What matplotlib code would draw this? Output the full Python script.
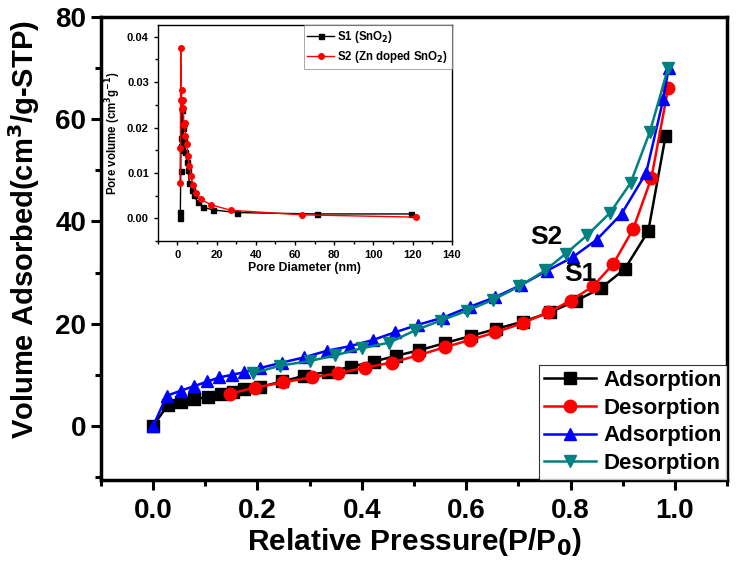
import numpy as np
import matplotlib
matplotlib.use("Agg")
import matplotlib.pyplot as plt
from matplotlib.ticker import MultipleLocator

plt.rcParams["font.family"] = ["Liberation Sans Narrow", "Liberation Sans", "DejaVu Sans"]
plt.rcParams["font.weight"] = "bold"
plt.rcParams["mathtext.default"] = "bf"

# S1 (SnO2) isotherm
s1_ads_p = [0.0, 0.028, 0.053, 0.079, 0.105, 0.13, 0.154, 0.175, 0.204, 0.247, 0.289, 0.336,
            0.38, 0.423, 0.465, 0.51, 0.559, 0.609, 0.658, 0.709, 0.76, 0.811, 0.859, 0.904,
            0.949, 0.982]
s1_ads_v = [0, 4.1, 4.7, 5.2, 5.7, 6.2, 6.7, 7.2, 7.6, 8.7, 9.8, 10.6, 11.6, 12.6, 13.7, 14.8,
            16.2, 17.6, 19.0, 20.4, 22.2, 24.5, 27.0, 30.7, 38.1, 56.6]
s1_des_p = [0.147, 0.195, 0.248, 0.304, 0.355, 0.406, 0.457, 0.508, 0.559, 0.607, 0.656, 0.708,
            0.757, 0.80, 0.843, 0.882, 0.92, 0.955, 0.987]
s1_des_v = [6.3, 7.5, 8.5, 9.5, 10.3, 11.4, 12.4, 13.8, 15.4, 16.8, 18.3, 20.1, 22.2, 24.5,
            27.3, 31.7, 38.5, 48.5, 66.0]

# S2 (Zn doped SnO2) isotherm
s2_ads_p = [0.0, 0.026, 0.053, 0.079, 0.104, 0.127, 0.151, 0.174, 0.204, 0.247, 0.289, 0.333,
            0.377, 0.421, 0.463, 0.508, 0.556, 0.607, 0.656, 0.706, 0.754, 0.804, 0.85, 0.898,
            0.945, 0.978, 0.988]
s2_ads_v = [0, 5.9, 6.9, 7.8, 8.7, 9.5, 10.0, 10.5, 11.3, 12.4, 13.4, 14.7, 15.6, 16.8, 18.3,
            19.8, 21.2, 23.3, 25.2, 27.6, 30.3, 33.0, 36.4, 41.5, 49.5, 64.0, 70.0]
s2_des_p = [0.191, 0.244, 0.30, 0.349, 0.40, 0.453, 0.502, 0.551, 0.601, 0.652, 0.702, 0.751,
            0.791, 0.832, 0.876, 0.915, 0.952, 0.987]
s2_des_v = [10.3, 11.8, 12.7, 13.8, 15.2, 16.3, 18.7, 20.6, 22.5, 24.7, 27.3, 30.4, 33.7, 37.3,
            41.7, 47.5, 57.5, 70.0]

# pore size distribution (inset)
s1_d = [1.4, 1.5, 1.7, 1.8, 1.9, 2.1, 2.4, 2.7, 3.2, 4.1, 4.8, 5.4, 6.1, 7.4, 8.3, 10.4, 12.9,
        18.0, 30.3, 71.1, 119.2]
s1_pv = [0.0001, 0.0015, 0.0105, 0.0160, 0.0178, 0.0150, 0.0239, 0.0200, 0.0172, 0.0147, 0.0124,
         0.0106, 0.0077, 0.0063, 0.0051, 0.0036, 0.0025, 0.0019, 0.0013, 0.0010, 0.0010]
s2_d = [1.3, 1.5, 1.7, 1.9, 2.1, 2.3, 2.5, 2.7, 3.0, 3.3, 3.7, 4.1, 4.8, 5.3, 6.1, 7.0, 7.8,
        9.5, 12.1, 17.2, 27.4, 63.6, 121.8]
s2_pv = [0.0079, 0.0154, 0.0375, 0.0260, 0.0283, 0.0258, 0.0240, 0.0260, 0.0242, 0.0206, 0.0210,
         0.0181, 0.0163, 0.0137, 0.0116, 0.0093, 0.0074, 0.0056, 0.0042, 0.0030, 0.0018, 0.0008,
         0.0003]


def main():
    fig = plt.figure(figsize=(7.48, 5.61), dpi=100)
    ax = fig.add_axes([0.135, 0.145, 0.837, 0.825])

    kw = dict(lw=1.8, ms=9)
    ax.plot(s1_ads_p, s1_ads_v, "-s", color="black", label="Adsorption", **kw)
    ax.plot(s1_des_p, s1_des_v, "-o", color="red", label="Desorption", **kw)
    ax.plot(s2_ads_p, s2_ads_v, "-^", color="blue", label="Adsorption", **kw)
    ax.plot(s2_des_p, s2_des_v, "-v", color="#008080", label="Desorption", **kw)

    ax.set_xlim(-0.1, 1.1)
    ax.set_ylim(-10.5, 80)
    ax.xaxis.set_major_locator(MultipleLocator(0.2))
    ax.xaxis.set_minor_locator(MultipleLocator(0.1))
    ax.yaxis.set_major_locator(MultipleLocator(20))
    ax.yaxis.set_minor_locator(MultipleLocator(10))
    ax.set_xticks(np.arange(0, 1.01, 0.2))
    ax.set_xticklabels(["0.0", "0.2", "0.4", "0.6", "0.8", "1.0"])
    ax.tick_params(which="major", direction="out", length=7, width=2.2, labelsize=20)
    ax.tick_params(axis="x", which="major", pad=6)
    ax.tick_params(which="minor", direction="out", length=4, width=2.2)
    for sp in ax.spines.values():
        sp.set_linewidth(2.5)

    ax.set_xlabel("Relative Pressure(P/P$_0$)", fontsize=21.5, fontweight="bold", labelpad=2)
    ax.set_ylabel("Volume Adsorbed(cm$^3$/g-STP)", fontsize=21, fontweight="bold")
    ax.yaxis.set_label_coords(-0.094, 0.54)

    ax.text(0.754, 36.9, "S2", fontsize=19, fontweight="bold", ha="center", va="center")
    ax.text(0.818, 29.7, "S1", fontsize=19, fontweight="bold", ha="center", va="center")

    leg = ax.legend(loc="lower right", fontsize=16, frameon=True, fancybox=False,
                    borderaxespad=0, handlelength=2.35, labelspacing=0.3, borderpad=0.25,
                    handletextpad=0.3, edgecolor="black")
    leg.get_frame().set_linewidth(0.8)

    # inset
    ins = fig.add_axes([0.211, 0.570, 0.393, 0.385])
    inset_font = ["Liberation Sans", "DejaVu Sans"]
    ins.plot(s1_d, s1_pv, "-s", color="black", lw=1.0, ms=3.6, label="S1 (SnO$_2$)")
    ins.plot(s2_d, s2_pv, "-o", color="red", lw=1.0, ms=4.0, label="S2 (Zn doped SnO$_2$)")
    ins.set_xlim(-10, 140)
    ins.set_ylim(-0.005, 0.0425)
    ins.xaxis.set_major_locator(MultipleLocator(20))
    ins.xaxis.set_minor_locator(MultipleLocator(10))
    ins.yaxis.set_major_locator(MultipleLocator(0.01))
    ins.yaxis.set_minor_locator(MultipleLocator(0.005))
    ins.set_yticks([0, 0.01, 0.02, 0.03, 0.04])
    ins.set_yticklabels(["0.00", "0.01", "0.02", "0.03", "0.04"])
    ins.tick_params(which="major", direction="out", length=3, width=1, labelsize=8)
    ins.tick_params(which="minor", direction="out", length=2, width=1)
    for lab in ins.get_xticklabels() + ins.get_yticklabels():
        lab.set_family(inset_font)
    for sp in ins.spines.values():
        sp.set_linewidth(1.0)
    ins.set_xlabel("Pore Diameter (nm)", fontsize=8.8, fontweight="bold", family=inset_font, labelpad=1)
    ins.set_ylabel("Pore volume (cm$^3$g$^{-1}$)", fontsize=8.3, fontweight="bold", family=inset_font, labelpad=3)
    ileg = ins.legend(loc="upper right", prop={"family": inset_font, "weight": "bold", "size": 8.3},
                      fancybox=False, borderaxespad=0, handlelength=2.3, labelspacing=0.4,
                      borderpad=0.3, handletextpad=0.3, edgecolor="gray")
    ileg.get_frame().set_linewidth(0.6)

    fig.savefig("out.png", dpi=100)
    plt.close(fig)
    return 0


main()
